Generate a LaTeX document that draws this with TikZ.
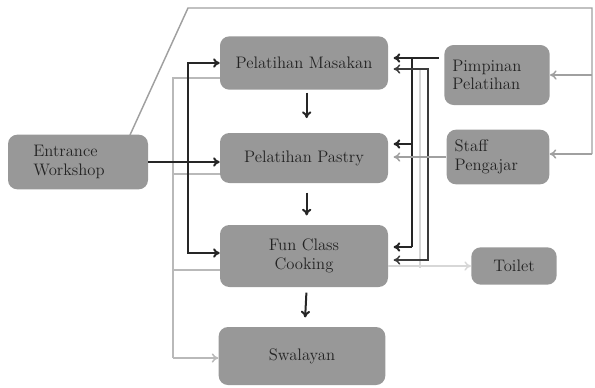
\documentclass[tikz,border=0pt]{standalone}
\usepackage{fontspec}
\usetikzlibrary{arrows.meta}
\definecolor{boxgray}{RGB}{152,152,152}
\definecolor{textdark}{RGB}{35,35,35}
\definecolor{linegray}{RGB}{160,160,160}
\definecolor{buslight}{RGB}{185,185,185}
\definecolor{verylight}{RGB}{215,215,215}
\definecolor{darkline}{RGB}{60,60,60}
\begin{document}
\begin{tikzpicture}[x=0.75pt,y=-0.75pt,
  box/.style={fill=boxgray, rounded corners=7pt, inner sep=2pt, text=textdark,
              font=\fontsize{12.5}{14}\selectfont},
  leftbox/.style={box, align=left, inner xsep=6pt},
  blk/.style={draw=black!85, line width=1.5pt, -{To[length=5pt,width=7pt]}},
  dk/.style={draw=darkline, line width=1.1pt},
  gry/.style={draw=buslight, line width=1.1pt},
  outer/.style={draw=linegray, line width=1.1pt},
  lt/.style={draw=verylight, line width=1.1pt},
  gtip/.style={-{To[length=5pt,width=7pt]}},
]
\useasboundingbox (0,0) rectangle (595,387);

% nodes
\node[leftbox, inner xsep=19pt, text width=67pt, minimum width=105pt, minimum height=41pt] (ent) at (78,162) {Entrance\\Workshop};
\node[box, minimum width=126pt, minimum height=40pt] (mas) at (304,63) {Pelatihan Masakan};
\node[box, minimum width=126pt, minimum height=37.5pt] (pas) at (304,158) {Pelatihan Pastry};
\node[box, minimum width=126pt, minimum height=46.5pt, align=center] (fun) at (304,256) {Fun Class\\Cooking};
\node[box, minimum width=125pt, minimum height=43.5pt] (swa) at (302,356) {Swalayan};
\node[leftbox, text width=67pt, minimum width=79pt, minimum height=45pt] (pim) at (497,75) {Pimpinan\\Pelatihan};
\node[leftbox, text width=65pt, minimum width=77pt, minimum height=41pt] (sta) at (498,157) {Staff\\Pengajar};
\node[box, minimum width=64pt, minimum height=28pt] (toi) at (514,266) {Toilet};

% outer gray route from entrance to the staff boxes
\coordinate (o0) at (130,135);
\coordinate (o1) at (188,8);
\coordinate (o2) at (592,8);
\coordinate (o3) at (592,75);
\coordinate (o4) at (592,154);
\draw[outer] (o0) -- (o1) -- (o2) -- (o4);
\draw[outer,gtip] (o3) -- (o3 -| pim.east);
\draw[outer,gtip] (o4) -- (o4 -| sta.east);

% light gray bus at x=173
\coordinate (g1) at (173,78);
\coordinate (g2) at (173,174);
\coordinate (g3) at (173,270);
\coordinate (g4) at (173,358);
\draw[gry] (g1 -| mas.west) -- (g1) -- (g4);
\draw[gry] (g2) -- (g2 -| pas.west);
\draw[gry] (g3) -- (g3 -| fun.west);
\draw[gry,gtip] (g4) -- (g4 -| swa.west);

% black bus at x=188
\coordinate (b1) at (188,63);
\coordinate (b2) at (188,253);
\draw[blk,{To[length=5pt,width=7pt]}-{To[length=5pt,width=7pt]}] (mas.west) -- (b1) -- (b2) -- (b2 -| fun.west);
\draw[blk] (ent.east) -- (ent.east -| pas.west);

% vertical flow
\draw[blk, shorten <=2pt, shorten >=11pt] ([xshift=2pt]mas.south) -- ([xshift=2pt]pas.north);
\draw[blk, shorten <=7pt, shorten >=7pt] ([xshift=2pt]pas.south) -- ([xshift=2pt]fun.north);
\draw[blk, shorten <=4pt, shorten >=7pt] ([xshift=2pt]fun.south) -- ([xshift=2pt]swa.north);

% right side buses
\coordinate (r1) at (412,58);
\coordinate (r2) at (412,144);
\coordinate (r3) at (412,247);
\draw[blk, shorten <=4pt, shorten >=4pt] (r1 -| pim.west) -- (r1 -| mas.east);
\draw[draw=black!85, line width=1.5pt] (r1) -- (r3);
\draw[blk, shorten >=4pt] (r2) -- (r2 -| pas.east);
\draw[blk, shorten >=4pt] (r3) -- (r3 -| fun.east);

\coordinate (q1) at (420,69);
\coordinate (q2) at (420,268);
\draw[lt] (q1) -- (q2);

\coordinate (d1) at (428,69);
\coordinate (d2) at (428,260);
\draw[dk,{To[length=5pt,width=7pt]}-{To[length=5pt,width=7pt]}, shorten <=4pt, shorten >=4pt] (d1 -| mas.east) -- (d1) -- (d2) -- (d2 -| fun.east);

\draw[outer,gtip, shorten >=4pt] (sta.west) -- (sta.west -| pas.east);
\draw[lt,gtip] (toi.west -| fun.east) -- (toi.west);
\end{tikzpicture}
\end{document}
